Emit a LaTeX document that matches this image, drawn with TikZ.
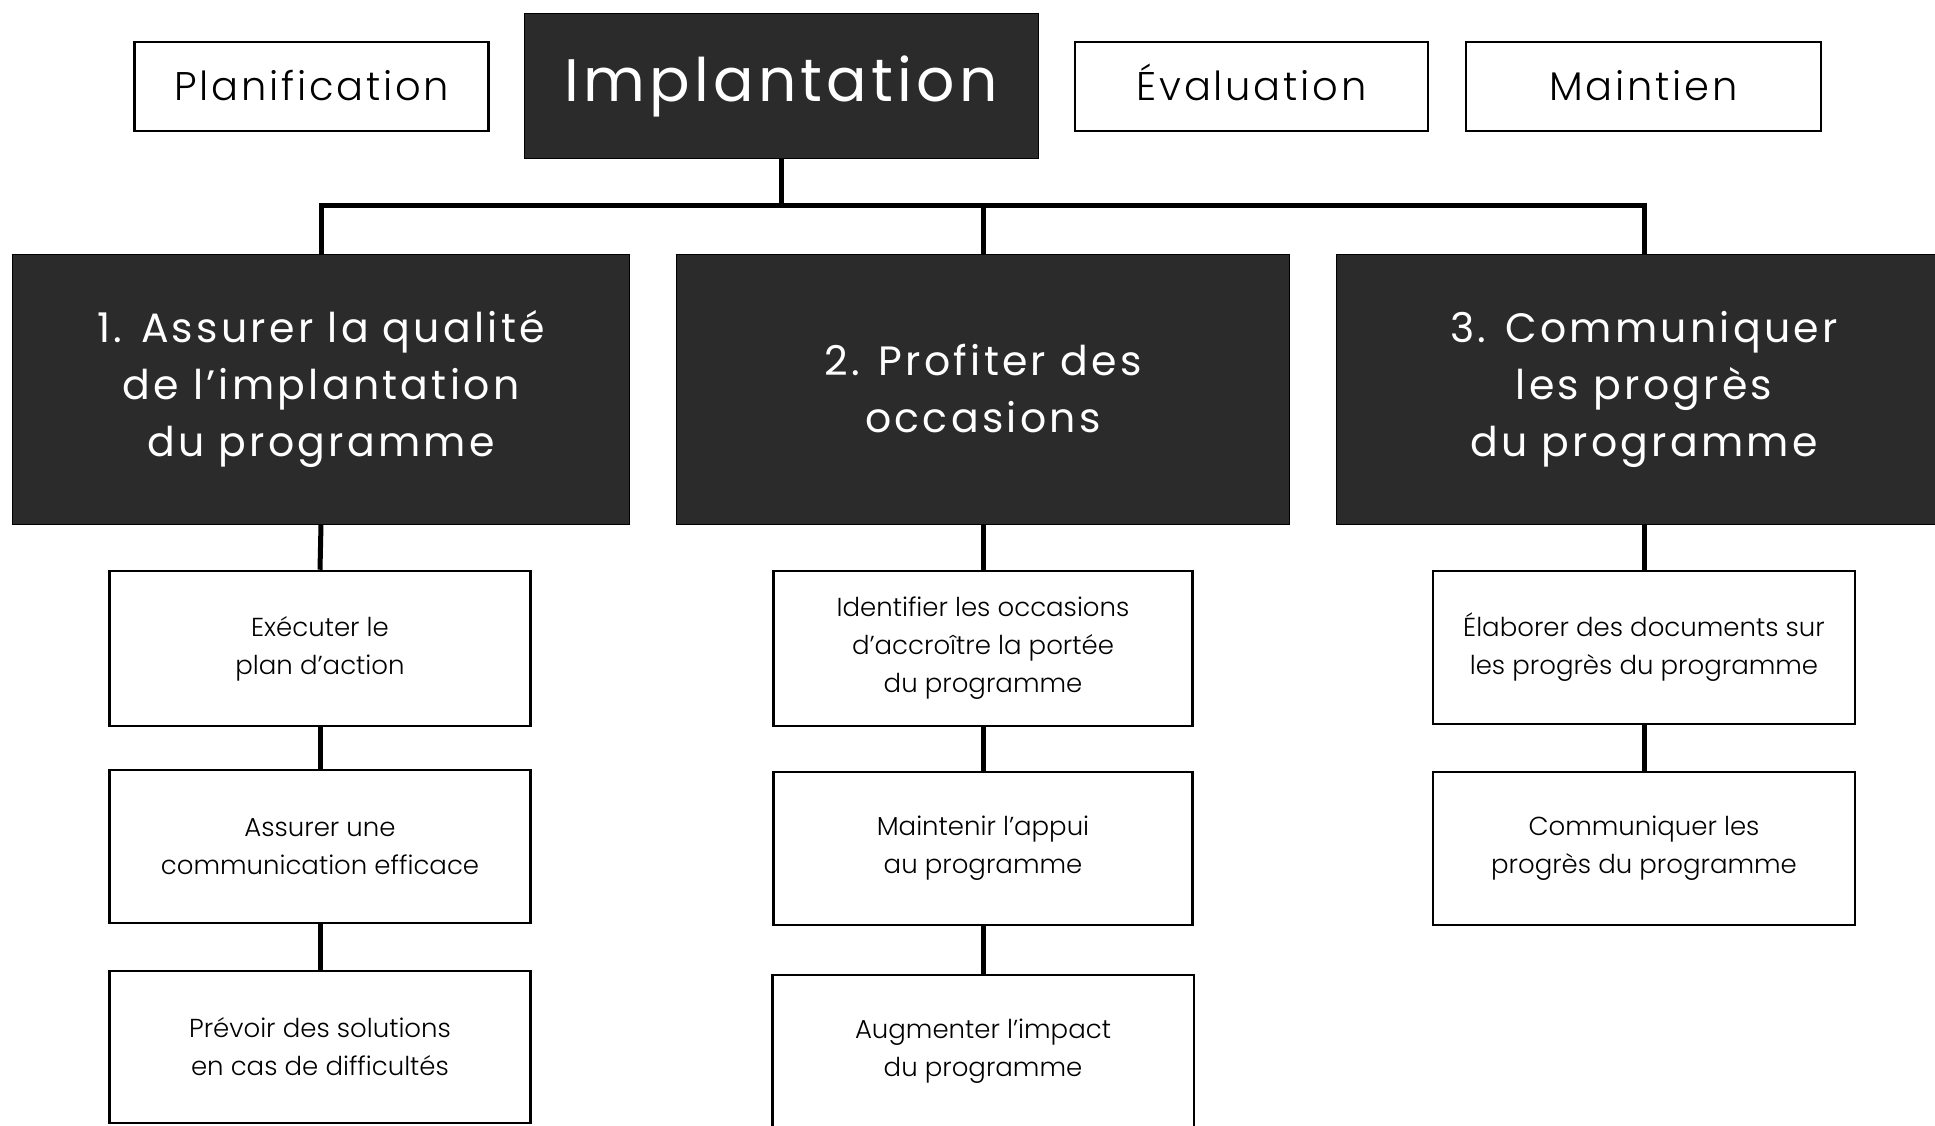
\documentclass[tikz,border=0pt]{standalone}
\usepackage{fontspec}
\setmainfont{Poppins}
\newfontfamily\lightfont{Poppins Light}
\definecolor{darkbox}{rgb}{0.17,0.17,0.17}
\begin{document}
\begin{tikzpicture}[x=1pt,y=-1pt,
  topbox/.style={draw=black,line width=2.5pt,fill=white,inner sep=0pt,align=center,text height=30pt,text depth=2pt,font=\lightfont\fontsize{40}{48}\selectfont\addfontfeature{LetterSpace=7}},
  darkhead/.style={fill=darkbox,draw=black,line width=1pt,inner sep=0pt,align=center,text=white,font=\fontsize{41}{57}\selectfont\addfontfeature{LetterSpace=8}},
  subbox/.style={draw=black,line width=2.5pt,fill=white,inner sep=0pt,align=center,font=\lightfont\fontsize{26}{38}\selectfont},
  conn/.style={line width=5pt,draw=black}]
\useasboundingbox (0,0) rectangle (1935,1126);
% top row
\node[topbox,minimum width=354,minimum height=89] (plan) at (311.5,86.5) {Planification};
\node[darkhead,minimum width=514,minimum height=145,font=\fontsize{60}{70}\selectfont\addfontfeature{LetterSpace=7}] (impl) at (781,86.5) {Implantation};
\node[topbox,minimum width=353,minimum height=89] (eval) at (1251.5,86.5) {Évaluation};
\node[topbox,minimum width=355,minimum height=89] (maint) at (1643.5,86.5) {Maintien};
% main boxes
\node[darkhead,minimum width=617,minimum height=270] (m1) at (321,389) {1. Assurer la qualité\\de l’implantation\\du programme};
\node[darkhead,minimum width=613,minimum height=270] (m2) at (983,389) {2. Profiter des\\occasions};
\node[darkhead,minimum width=616,minimum height=270] (m3) at (1644,389) {3. Communiquer\\les progrès\\du programme};
% bus
\draw[conn] (m1.north) -- ++(0,-48) coordinate (busL) -| (m3.north);
\draw[conn] (m2.north) -- (m2.north |- busL);
\draw[conn] (impl.south) -- (impl.south |- busL);
% column 1
\node[subbox,minimum width=421,minimum height=155] (s11) at (320,648.5) {Exécuter le\\plan d’action};
\node[subbox,minimum width=421,minimum height=153] (s12) at (320,846.5) {Assurer une\\communication efficace};
\node[subbox,minimum width=421,minimum height=152] (s13) at (320,1047) {Prévoir des solutions\\en cas de difficultés};
% column 2
\node[subbox,minimum width=419,minimum height=155] (s21) at (983,648.5) {Identifier les occasions\\d’accroître la portée\\du programme};
\node[subbox,minimum width=419,minimum height=153] (s22) at (983,848.5) {Maintenir l’appui\\au programme};
\node[subbox,draw=none,minimum width=419,minimum height=150] (s23) at (983,1051) {Augmenter l’impact\\du programme};
\draw[line width=2.5pt] (s23.south west) |- (s23.north east) -- (s23.south east);
% column 3
\node[subbox,minimum width=422,minimum height=153] (s31) at (1644,647.5) {Élaborer des documents sur\\les progrès du programme};
\node[subbox,minimum width=422,minimum height=153] (s32) at (1644,848.5) {Communiquer les\\progrès du programme};
% vertical connectors
\draw[conn] (m1.south) -- (s11.north);
\draw[conn] (s11.south) -- (s12.north);
\draw[conn] (s12.south) -- (s13.north);
\draw[conn] (m2.south) -- (s21.north);
\draw[conn] (s21.south) -- (s22.north);
\draw[conn] (s22.south) -- (s23.north);
\draw[conn] (m3.south) -- (s31.north);
\draw[conn] (s31.south) -- (s32.north);
\end{tikzpicture}
\end{document}
